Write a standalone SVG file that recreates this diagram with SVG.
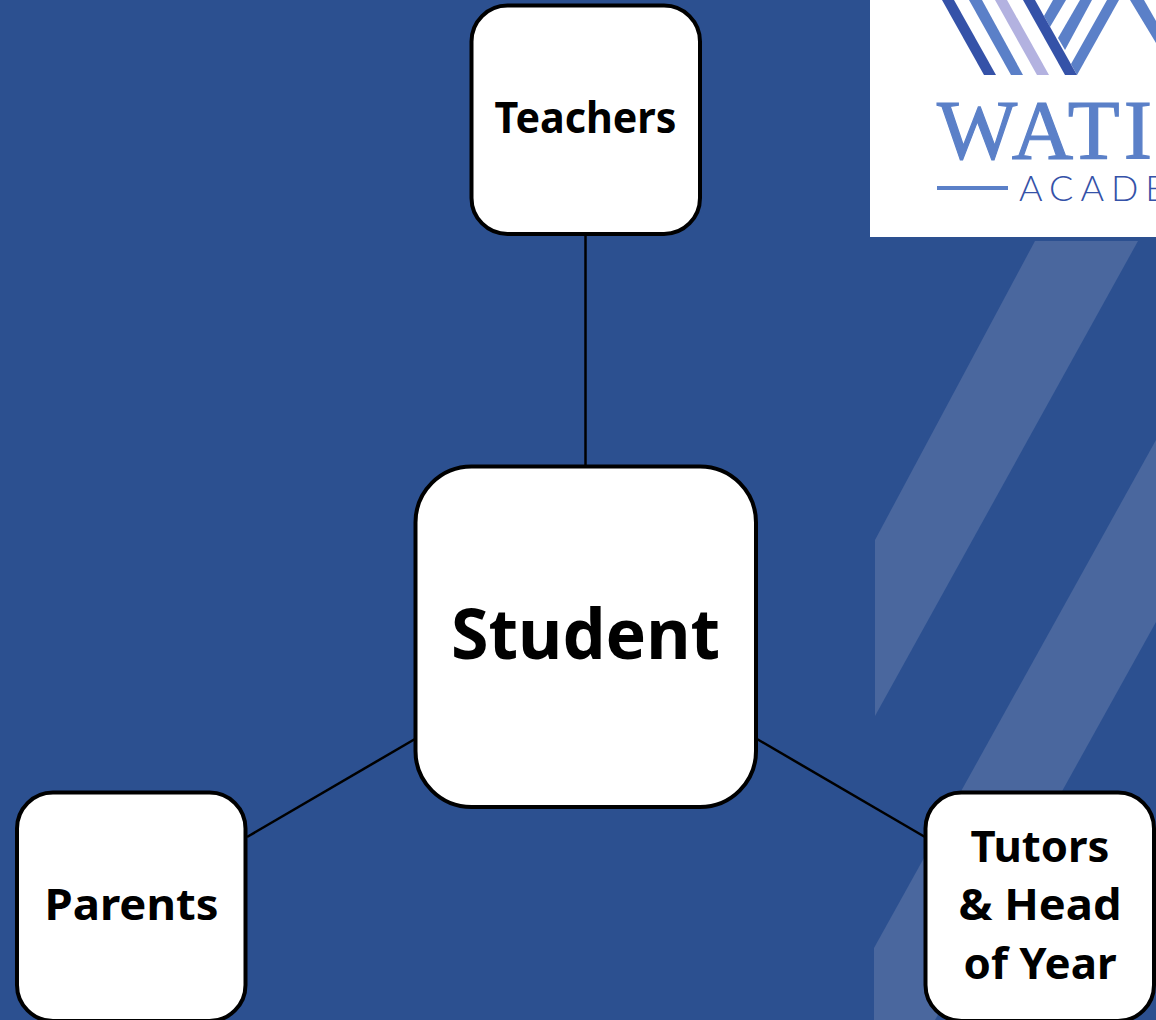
<svg xmlns="http://www.w3.org/2000/svg" width="1156" height="1020" viewBox="0 0 1156 1020">
<style>
.box{fill:#fff;stroke:#000;stroke-width:4}
.lbl{font-family:"Noto Sans","Open Sans",sans-serif;font-weight:700;fill:#000;text-anchor:middle}
.s{font-size:43px}
.conn{stroke:#000;stroke-width:2.5;fill:none}
.stripe{fill:#4a679e}
.dk{fill:#3552a8}.md{fill:#5b80c8}.lv{fill:#b3b2e0}
</style>
<defs><clipPath id="logoClip"><rect x="870" y="0" width="286" height="75"/></clipPath></defs>
<rect width="1156" height="1020" fill="#2c5090"/>
<g id="background-stripes">
<polygon class="stripe" points="1035,241 1138,241 875,716 875,540"/>
<polygon class="stripe" points="1156,440 1156,622 935,1020 874,1020 874,948"/>
</g>
<g id="logo">
<rect x="870" y="0" width="286" height="237" fill="#fff"/>
<g clip-path="url(#logoClip)">
<polygon class="md" points="1053,0 1066,0 1050,27 1044,16"/>
<polygon class="md" points="1080,0 1092,0 1065,50 1058,38"/>
<polygon class="md" points="1107,0 1119,0 1077,75 1071,64"/>
<polygon class="md" points="1130,0 1144,0 1156,21 1156,43"/>
<polygon class="dk" points="942,0 954,0 996,75 984,75"/>
<polygon class="md" points="969,0 982,0 1023,75 1011,75"/>
<polygon class="lv" points="995,0 1007,0 1049,75 1037,75"/>
<polygon class="dk" points="1023,0 1035,0 1077,75 1065,75"/>
</g>
<text x="937" y="159" font-family="Liberation Serif,serif" font-size="85" fill="#5b80c8" stroke="#5b80c8" stroke-width="1.2" letter-spacing="4">WATI</text>
<rect x="937" y="186" width="71" height="4" fill="#5b80c8"/>
<text x="1019" y="201" font-family="Lato,Liberation Sans,sans-serif" font-weight="300" font-size="36" letter-spacing="7" fill="#3552a8">ACADE</text>
</g>
<g id="connectors">
<line class="conn" x1="585.500" y1="234" x2="585.500" y2="466"/>
<line class="conn" x1="415" y1="739" x2="247" y2="837"/>
<line class="conn" x1="757" y1="739" x2="925" y2="837"/>
</g>
<g id="teachers">
<rect class="box" x="471.500" y="5.500" width="228.500" height="228.500" rx="36"/>
<text class="lbl s" x="585.500" y="133" textLength="182" lengthAdjust="spacingAndGlyphs">Teachers</text>
</g>
<g id="student">
<rect class="box" x="415.500" y="466.500" width="340.500" height="340.500" rx="56"/>
<text class="lbl" x="585.500" y="659" font-size="70" textLength="269" lengthAdjust="spacingAndGlyphs">Student</text>
</g>
<g id="parents">
<rect class="box" x="17" y="792.500" width="228.500" height="228.500" rx="36"/>
<text class="lbl s" x="131.500" y="920" textLength="174" lengthAdjust="spacingAndGlyphs">Parents</text>
</g>
<g id="tutors">
<rect class="box" x="925.500" y="792.500" width="228.500" height="228.500" rx="36"/>
<text class="lbl s" x="1040" y="862" textLength="139" lengthAdjust="spacingAndGlyphs">Tutors</text>
<text class="lbl s" x="1040" y="920" textLength="163" lengthAdjust="spacingAndGlyphs">&amp; Head</text>
<text class="lbl s" x="1040" y="979" textLength="153" lengthAdjust="spacingAndGlyphs">of Year</text>
</g>
</svg>
